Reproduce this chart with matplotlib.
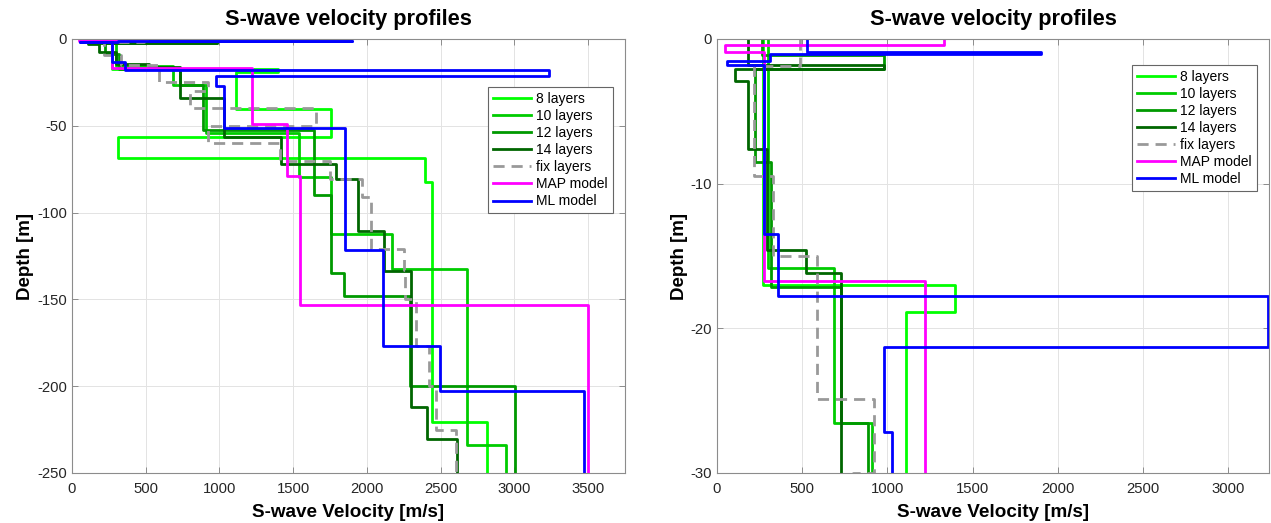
import numpy as np
import matplotlib.pyplot as plt

plt.rcParams['font.family'] = ['Liberation Sans', 'DejaVu Sans']
plt.rcParams['axes.unicode_minus'] = False

# layer velocities (m/s), top layer first, and depth of each layer bottom (m)
vs_8 = [270, 1396, 1111, 1758, 311, 2391, 2440, 2817]
zb_8 = [-17.0, -18.9, -40.5, -56.7, -68.3, -82.4, -220.4]

vs_10 = [300, 684, 907, 1537, 1754, 2170, 2680, 2940]
zb_10 = [-15.84, -26.57, -54.4, -79.5, -112.3, -132.7, -233.9]

vs_12 = [265, 980, 222, 318, 729, 889, 1643, 1758, 1844, 2290, 3006]
zb_12 = [-1.1, -2.1, -8.5, -17.16, -26.57, -52.4, -90.1, -134.6, -147.8, -200.0]

vs_14 = [180, 980, 106, 180, 296, 524, 729, 1029, 1420, 1790, 1938, 2119, 2300, 2404, 2610]
zb_14 = [-1.8, -2.05, -2.9, -7.6, -14.6, -16.2, -33.8, -56.7, -71.8, -80.9, -110.4, -133.6, -211.8, -230.6]

vs_fix = [490, 220, 329, 589, 922, 800, 1657, 925, 1410, 1747, 1967, 2030, 2248, 2255, 2334, 2424, 2469, 2604]
zb_fix = [-1.9, -9.5, -15.0, -24.9, -30.0, -39.9, -50.1, -60.1, -70.0, -80.5, -91.0, -121.0, -133.0, -150.0,
          -177.0, -200.0, -225.0]

vs_map = [1333, 49, 273, 1222, 1456, 1545, 3500]
zb_map = [-0.43, -0.89, -16.7, -49.0, -79.1, -153.2]

vs_ml = [528, 1900, 312, 57, 273, 358, 3233, 978, 1029, 1850, 2110, 2496, 3470]
zb_ml = [-0.91, -1.07, -1.49, -1.83, -13.46, -17.74, -21.27, -27.2, -51.5, -121.7, -176.8, -202.6]

labels = ['8 layers', '10 layers', '12 layers', '14 layers', 'fix layers', 'MAP model', 'ML model']
models = [(vs_8, zb_8), (vs_10, zb_10), (vs_12, zb_12), (vs_14, zb_14),
          (vs_fix, zb_fix), (vs_map, zb_map), (vs_ml, zb_ml)]
colors = [(0, 1, 0), (0, 0.8, 0), (0, 0.6, 0), (0, 0.4, 0), (0.6, 0.6, 0.6), (1, 0, 1), (0, 0, 1)]
styles = ['-', '-', '-', '-', '--', '-', '-']


def stairs(vs, zb, zend=-300.0):
    z = [0.0] + list(zb) + [zend]
    x, y = [], []
    for i, v in enumerate(vs):
        x += [v, v]
        y += [z[i], z[i + 1]]
    return x, y


def profile_axes(ax, xlim, ylim, xticks, yticks, leg_anchor):
    for (vs, zb), c, ls, lab in zip(models, colors, styles, labels):
        x, y = stairs(vs, zb)
        if ls == '--':
            ax.plot(x, y, color=c, lw=2.0, ls=ls, dashes=(4, 2.5), label=lab)
        else:
            ax.plot(x, y, color=c, lw=2.0, ls=ls, label=lab)
    ax.set_xlim(xlim)
    ax.set_ylim(ylim)
    ax.set_xticks(xticks)
    ax.set_yticks(yticks)
    ax.grid(True, color='#e3e3e3', lw=0.7)
    ax.set_axisbelow(True)
    for s in ax.spines.values():
        s.set_color('#8c8c8c')
        s.set_linewidth(0.8)
    ax.tick_params(direction='in', length=4, width=0.7, color='#8c8c8c', labelsize=10.7,
                   labelcolor='#262626', top=True, right=True, labeltop=False, labelright=False)
    ax.tick_params(axis='x', pad=6.5)
    ax.set_title('S-wave velocity profiles', fontsize=15.7, fontweight='bold', pad=10)
    ax.set_xlabel('S-wave Velocity [m/s]', fontsize=13.6, fontweight='bold', labelpad=6)
    ax.set_ylabel('Depth [m]', fontsize=13.5, fontweight='bold', labelpad=2)
    leg = ax.legend(loc='upper right', bbox_to_anchor=leg_anchor, borderaxespad=0, fontsize=10,
                    handlelength=2.7, handletextpad=0.4, labelspacing=0.22, borderpad=0.35,
                    fancybox=False, framealpha=1)
    leg.get_frame().set_edgecolor('#666666')
    leg.get_frame().set_linewidth(0.8)


fig = plt.figure(figsize=(12.71, 5.23), dpi=100)
ax1 = fig.add_axes([72 / 1271, 50 / 523, 553 / 1271, 434 / 523])
ax2 = fig.add_axes([717 / 1271, 50 / 523, 552 / 1271, 434 / 523])

profile_axes(ax1, (0, 3750), (-250, 0), np.arange(0, 3501, 500), np.arange(-250, 1, 50), (0.978, 0.889))
profile_axes(ax2, (0, 3240), (-30, 0), np.arange(0, 3001, 500), np.arange(-30, 1, 10), (0.978, 0.940))

fig.savefig('out.png', dpi=100)
